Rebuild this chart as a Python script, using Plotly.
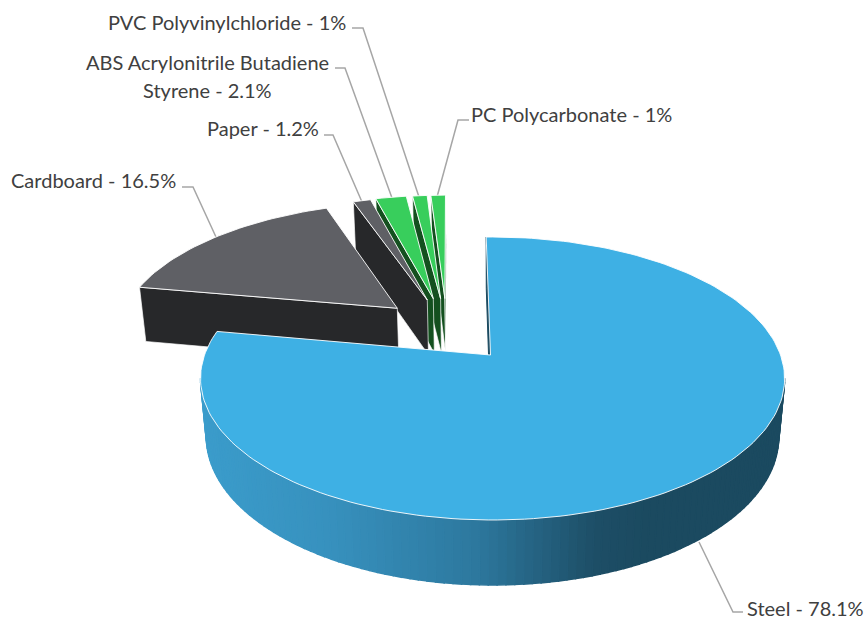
import math
import plotly.graph_objects as go

# ---- data ----
materials = ["Steel", "Cardboard", "Paper", "ABS Acrylonitrile Butadiene Styrene", "PVC Polyvinylchloride", "PC Polycarbonate"]
shares = [78.1, 16.5, 1.2, 2.1, 1.0, 1.0]

# ---- styles / geometry ----
top_colors = ["#3EB0E4", "#5F6065", "#5F6065", "#38CE5C", "#38CE5C", "#38CE5C"]
wall_colors = [None, "#27282A", "#27282A", "#14501F", "#14501F", "#14501F"]
explode = [(0, 0), (-0.343, 0.36), (-0.235, 0.428), (-0.213, 0.439), (-0.186, 0.44), (-0.170, 0.44)]
rim_shift = [(0.007, 0), (0, 0), (0, 0), (0, 0), (0, 0), (0, 0)]
START = -1.0
STEEL_RIM_LEAD = 0.4
CX, CY, BX, AY, K, H, M = 490.5, 355.0, 288.0, 137.6, 0.166, 58.8, 0.02
STEP = 1.5


def proj(u, v, low=False):
    d = 1 + K * v + (M if low else 0)
    return CX + BX * u / d, CY + ((H if low else 0) - AY * v) / d


def arc(off, a0, a1):
    n = max(2, int((a1 - a0) / STEP) + 1)
    return [(off[0] + math.sin(math.radians(a0 + (a1 - a0) * i / (n - 1))),
             off[1] + math.cos(math.radians(a0 + (a1 - a0) * i / (n - 1)))) for i in range(n)]


def visible(n, p):
    return n[0] * (0 - p[0]) + n[1] * (-1 / K - p[1]) > 0


def lerp_color(x):
    stops = [(200, (59, 156, 203)), (330, (55, 145, 190)), (480, (45, 120, 158)), (600, (29, 78, 102)), (650, (27, 74, 96)), (800, (27, 74, 96))]
    for (x0, c0), (x1, c1) in zip(stops, stops[1:]):
        if x <= x1:
            t = max(0, (x - x0) / (x1 - x0))
            return "rgb(%d,%d,%d)" % tuple(round(a + (b - a) * t) for a, b in zip(c0, c1))
    return "rgb(27,74,96)"


fig = go.Figure()


def poly(points, fill, line=None, width=1.0):
    xs = [p[0] for p in points] + [points[0][0]]
    ys = [p[1] for p in points] + [points[0][1]]
    fig.add_trace(go.Scatter(x=xs, y=ys, mode="lines", fill="toself", fillcolor=fill,
                             line=dict(color=line or fill, width=width), hoverinfo="skip", showlegend=False))


def quad(p, q, fill, line=None, width=1.5):
    poly([proj(*p), proj(*q), proj(*q, low=True), proj(*p, low=True)], fill, line, width)


angles = [START]
for s in shares:
    angles.append(angles[-1] + s * 3.6)

EDGE = "rgba(255,255,255,0.85)"

# leader lines sit behind the slices
LEADERS = [
    [(743, 612), (733, 612), (699, 542)],
    [(182, 187), (193, 187), (216, 237)],
    [(324, 135), (333, 135), (362, 202)],
    [(335, 68), (345, 68), (392, 198)],
    [(352, 28), (363, 28), (419, 197)],
    [(469, 120), (458, 120), (437, 197)],
]
for pts in LEADERS:
    fig.add_trace(go.Scatter(x=[p[0] for p in pts], y=[p[1] for p in pts], mode="lines",
                             line=dict(color="#A6A6A6", width=1.5), hoverinfo="skip", showlegend=False))

# painter's order: far slices first, steel last
for i in [5, 4, 3, 2, 1, 0]:
    a0, a1 = angles[i], angles[i + 1]
    if i == 0:
        a0 -= STEEL_RIM_LEAD
    apex = explode[i]
    off = (apex[0] + rim_shift[i][0], apex[1] + rim_shift[i][1])
    pts = arc(off, a0, a1)
    s0, s1 = pts[0], pts[-1]
    wc = wall_colors[i]
    # outer wall
    for j in range(len(pts) - 1):
        mid = a0 + (a1 - a0) * (j + 0.5) / (len(pts) - 1)
        n = (math.sin(math.radians(mid)), math.cos(math.radians(mid)))
        if visible(n, pts[j]):
            c = wc or lerp_color(proj(*pts[j])[0])
            quad(pts[j], pts[j + 1], c)
    # radial faces
    if visible((-math.cos(math.radians(a0)), math.sin(math.radians(a0))), apex):
        quad(apex, s0, wc or "#1B4A60", EDGE if wc else None, 0.8 if wc else 1)
    if visible((math.cos(math.radians(a1)), -math.sin(math.radians(a1))), apex):
        quad(apex, s1, wc or "#1B4A60", EDGE if wc else None, 0.8 if wc else 1)
    # top face
    poly([proj(*apex)] + [proj(*p) for p in pts], top_colors[i], "rgba(255,255,255,0.9)", 1.0)

TEXT = "#404040"
FONT = "Lato"
labels = [
    (f"{materials[0]} - {shares[0]}%", 745, 608, "left"),
    (f"{materials[1]} - {shares[1]}%", 178, 180, "right"),
    (f"{materials[2]} - {shares[2]}%", 321, 128, "right"),
    ("ABS Acrylonitrile Butadiene", 207, 62, "center"),
    ("Styrene - 2.1%", 207, 90, "center"),
    ("PVC Polyvinylchloride - 1%", 348, 22, "right"),
    ("PC Polycarbonate - 1%", 469, 114, "left"),
]
for t, x, y, anc in labels:
    fig.add_annotation(x=x, y=y, text=t, showarrow=False, xanchor=anc, yanchor="middle", align="center",
                       font=dict(family=FONT, size=20, color=TEXT))

fig.update_layout(width=864, height=622, margin=dict(l=0, r=0, t=0, b=0), paper_bgcolor="white",
                  plot_bgcolor="white", showlegend=False,
                  xaxis=dict(range=[0, 864], visible=False, fixedrange=True),
                  yaxis=dict(range=[622, 0], visible=False, fixedrange=True))
fig.write_html("out.html", config={"displayModeBar": False},
               post_script="document.body.style.margin='0';document.body.style.overflow='hidden';")
